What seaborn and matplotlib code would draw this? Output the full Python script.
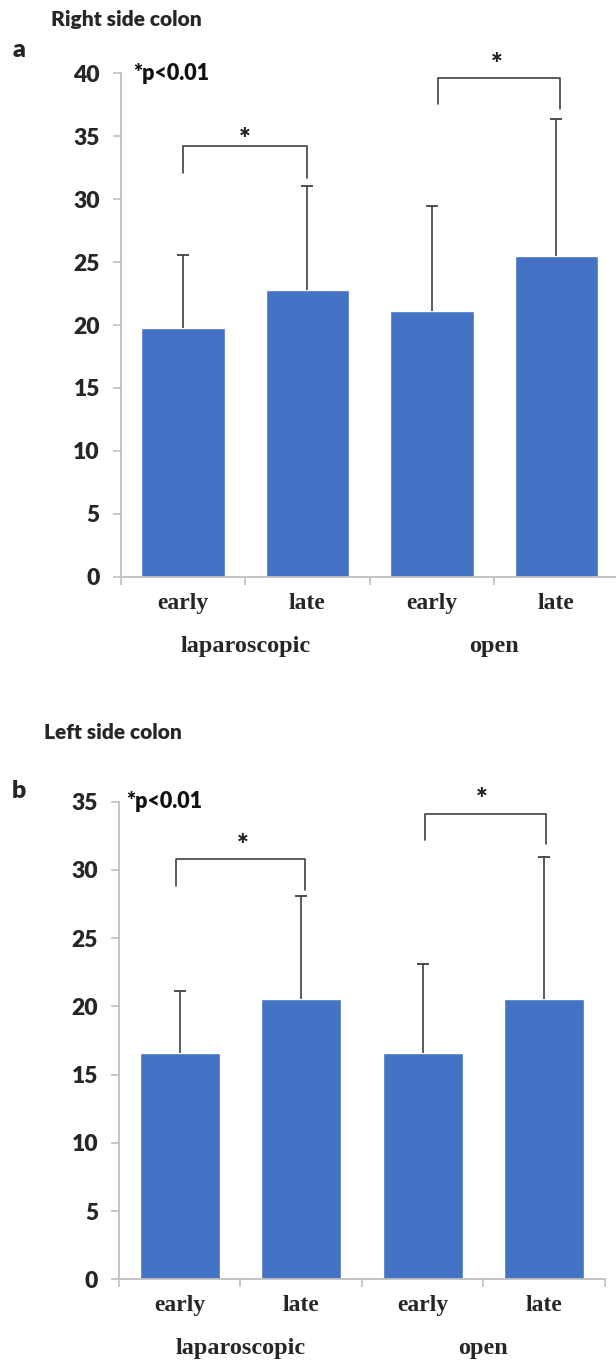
import matplotlib
matplotlib.use("Agg")
import matplotlib.pyplot as plt
import seaborn as sns
import pandas as pd
import numpy as np

# ---------------- data ----------------
categories = ["lap early", "lap late", "open early", "open late"]
tick_labels = ["early", "late", "early", "late"]
group_labels = ["laparoscopic", "open"]

right_means = [19.8, 22.8, 21.15, 25.5]
right_sd = [5.75, 8.25, 8.3, 10.9]

left_means = [16.6, 20.55, 16.55, 20.55]
left_sd = [4.55, 7.55, 6.55, 10.4]

# bracket annotations: (x_left, x_right, left_bottom, top, right_bottom, star_x, star_y)
right_brackets = [(0.0, 1.0, 32.1, 34.2, 31.7, 0.5, 34.7),
                  (2.05, 3.03, 37.55, 39.6, 37.2, 2.52, 40.7)]
left_brackets = [(-0.03, 1.03, 28.85, 30.8, 28.5, 0.52, 31.75),
                 (2.02, 3.02, 32.2, 34.1, 31.9, 2.49, 35.15)]

BAR = "#4472C4"
AXC = "#BFBFBF"
ERRC = "#404040"

sns.set_style("white")
plt.rcParams["font.family"] = ["Lato", "DejaVu Sans"]

fig = plt.figure(figsize=(6.16, 13.63), dpi=100)
ax_a = fig.add_axes([0.1959, 0.5769, 0.8083, 0.3693])
ax_b = fig.add_axes([0.1932, 0.0614, 0.7885, 0.3504])


def draw(ax, means, sds, brackets, ymax, width, plabel_x):
    df = pd.DataFrame({"cat": categories, "val": means})
    sns.barplot(data=df, x="cat", y="val", order=categories, color=BAR,
                saturation=1, width=width, ax=ax, errorbar=None)
    xs = np.arange(len(categories))
    tops = np.array(means) + np.array(sds)
    ax.vlines(xs, means, tops, color=ERRC, lw=1.2)
    ax.plot(xs, tops, ls="none", marker="_", markersize=8,
            markeredgewidth=1.3, color=ERRC)
    ax.set_xlim(-0.5, 3.5)
    ax.set_ylim(0, ymax)
    ax.set_yticks(np.arange(0, ymax + 1, 5))
    ax.set_yticklabels([str(int(v)) for v in np.arange(0, ymax + 1, 5)],
                       fontsize=16.5, fontweight="heavy")
    ax.set_xticks(xs)
    ax.set_xticklabels(tick_labels, family=["Liberation Serif"],
                       fontsize=17, fontweight="bold")
    ax.set_xticks([-0.5, 0.5, 1.5, 2.5, 3.5], minor=True)
    ax.tick_params(axis="x", which="major", length=0, pad=11.5)
    ax.tick_params(axis="x", which="minor", length=6, width=1.2,
                   color=AXC, direction="out", bottom=True)
    ax.tick_params(axis="y", which="major", length=6, width=1.2,
                   color=AXC, direction="out", left=True, pad=9)
    ax.set_xlabel("")
    ax.set_ylabel("")
    for s in ["top", "right"]:
        ax.spines[s].set_visible(False)
    for s in ["left", "bottom"]:
        ax.spines[s].set_color(AXC)
        ax.spines[s].set_linewidth(1.3)
    for gx, g in zip([0.5, 2.5], group_labels):
        ax.annotate(g, xy=(gx, 0), xycoords=("data", "axes fraction"),
                    xytext=(0, -54), textcoords="offset points",
                    ha="center", va="baseline", family=["Liberation Serif"],
                    fontsize=17.5, fontweight="bold", annotation_clip=False)
    for (xl, xr, lb, top, rb, sx, sy) in brackets:
        ax.plot([xl, xl, xr, xr], [lb, top, top, rb], color=ERRC, lw=1.2,
                clip_on=False)
        ax.text(sx, sy, "*", ha="center", va="center", fontsize=20,
                fontweight="heavy", color="#222222", clip_on=False)
    ax.text(plabel_x, 1.0, "*p<0.01", transform=ax.transAxes, ha="left",
            va="center", fontsize=15.5, fontweight="heavy", color="#111111")


draw(ax_a, right_means, right_sd, right_brackets, 40, 0.67, 0.025)
draw(ax_b, left_means, left_sd, left_brackets, 35, 0.66, 0.014)

fig.text(0.0823, 0.9809, "Right side colon", fontsize=15, fontweight="heavy",
         ha="left", va="baseline")
fig.text(0.0206, 0.958, "a", fontsize=18, fontweight="heavy", ha="left",
         va="baseline")
fig.text(0.072, 0.4576, "Left side colon", fontsize=15, fontweight="heavy",
         ha="left", va="baseline")
fig.text(0.019, 0.4143, "b", fontsize=18, fontweight="heavy", ha="left",
         va="baseline")

fig.savefig("out.png", dpi=100)
